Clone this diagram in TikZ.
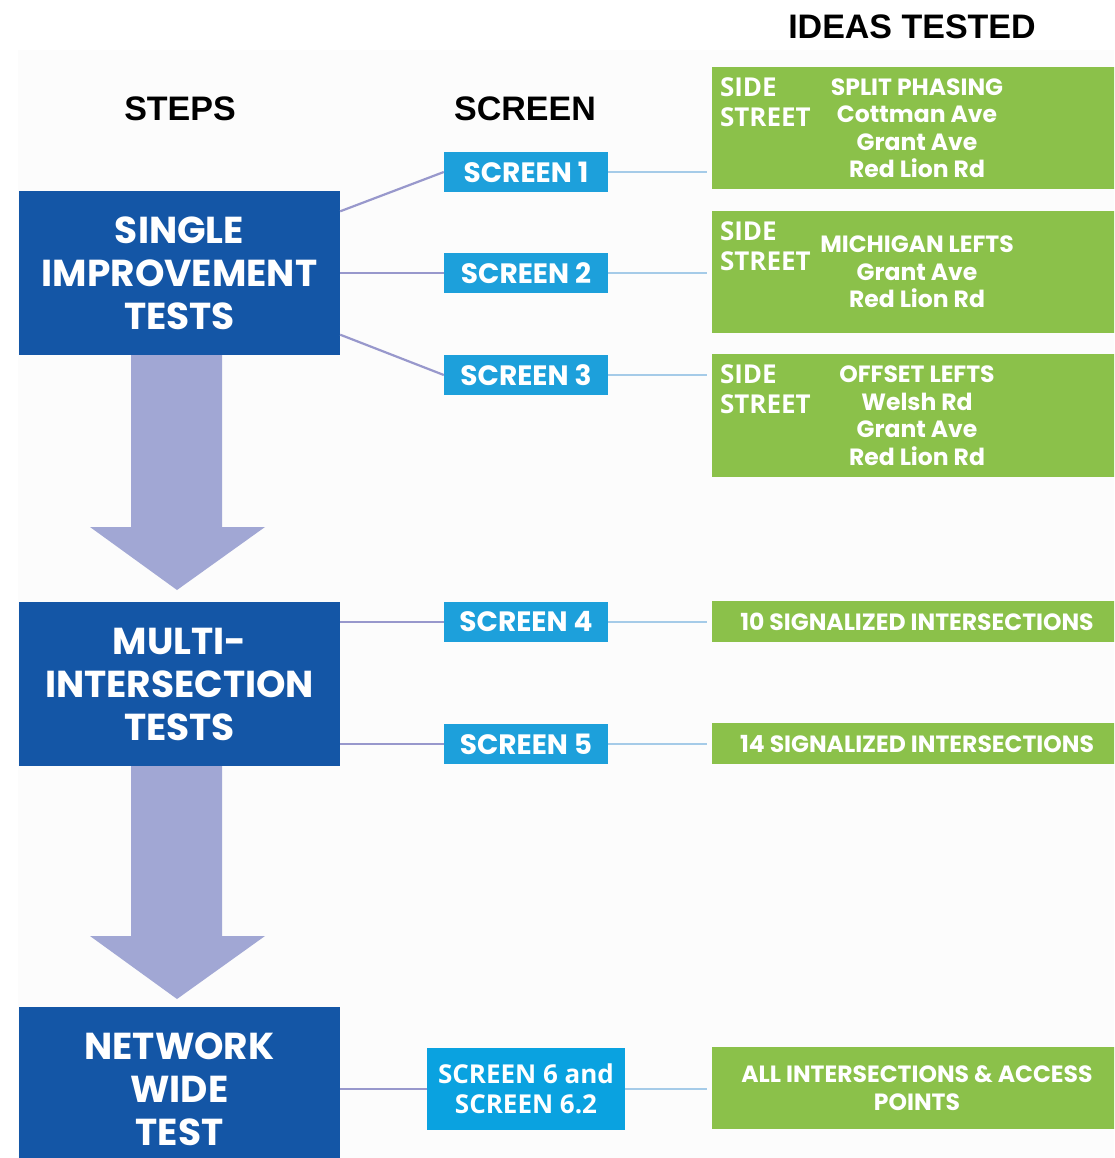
\documentclass[tikz,border=0pt]{standalone}
\usepackage{fontspec}
\usetikzlibrary{positioning}
\setmainfont{Poppins}
\newfontfamily\headfont{Liberation Sans}
\newfontfamily\plainfont{Open Sans}
\definecolor{stepblue}{RGB}{20,86,166}
\definecolor{screencyan}{RGB}{29,160,219}
\definecolor{screenbright}{RGB}{10,162,224}
\definecolor{ideagreen}{RGB}{139,193,74}
\definecolor{flowlav}{RGB}{161,167,212}
\definecolor{linklav}{RGB}{152,152,204}
\definecolor{linkblue}{RGB}{165,203,232}
\definecolor{paper}{RGB}{252,252,252}
\begin{document}
\begin{tikzpicture}[x=1pt, y=-1pt,
    stepbox/.style={fill=stepblue, text=white, minimum width=321pt, minimum height=164pt, inner sep=0pt, align=center, font=\bfseries\fontsize{37.5}{43}\selectfont},
    screenbox/.style={fill=screencyan, text=white, minimum width=164pt, minimum height=40pt, inner sep=0pt, font=\bfseries\fontsize{28}{30}\selectfont},
    ideabox/.style={fill=ideagreen, text=white, minimum width=410pt, inner sep=0pt, align=center, font=\bfseries\fontsize{23.5}{27.5}\selectfont},
    sidelabel/.style={text=white, anchor=north west, inner sep=0pt, align=left, font=\plainfont\bfseries\fontsize{26}{30}\selectfont},
    head/.style={font=\headfont\bfseries\fontsize{34}{40}\selectfont},
    link/.style={linklav, line width=2.2pt},
    feed/.style={linkblue, line width=2pt, shorten >=5pt}]
    \useasboundingbox (0,0) rectangle (1114,1158);
    \clip (0,0) rectangle (1114,1158);
    \fill[paper] (18,50) rectangle (1114,1158);

    \node[head] (hideas) at (912,27) {IDEAS TESTED};
    \node[head] (hsteps) at (180,109) {STEPS};
    \node[head] (hscreen) at (525,109) {SCREEN};

    % steps and the arrows between them
    \node[stepbox] (step1) at (179.5,273) {SINGLE\\IMPROVEMENT\\TESTS};
    \node[stepbox] (step2) at (179.5,684) {MULTI-\\INTERSECTION\\TESTS};
    \node[stepbox] (step3) at (179.5,1089) {NETWORK\\WIDE\\TEST};
    \foreach \top/\neck/\tip in {355/527/590, 766/936/999}
        \fill[flowlav] (131,\top) -- (222,\top) -- (222,\neck) -- (265,\neck)
            -- (177,\tip) -- (90,\neck) -- (131,\neck) -- cycle;

    % screens
    \foreach \n/\y in {1/172, 2/273, 3/375, 4/622, 5/744}
        \node[screenbox] (scr\n) at (526,\y) {SCREEN \n};
    \node[screenbox, fill=screenbright, minimum width=198pt, minimum height=82pt, align=center,
        font=\plainfont\bfseries\fontsize{26}{30}\selectfont] (scr6) at (526,1089) {SCREEN 6 and\\SCREEN 6.2};

    % ideas tested
    \node[ideabox, minimum height=122pt] (idea1) at (917,128) {SPLIT PHASING\\Cottman Ave\\Grant Ave\\Red Lion Rd};
    \node[ideabox, minimum height=122pt] (idea2) at (917,272) {MICHIGAN LEFTS\\Grant Ave\\Red Lion Rd};
    \node[ideabox, minimum height=123pt] (idea3) at (917,415.5) {OFFSET LEFTS\\Welsh Rd\\Grant Ave\\Red Lion Rd};
    \node[ideabox, minimum height=41pt] (idea4) at (917,621.5) {10 SIGNALIZED INTERSECTIONS};
    \node[ideabox, minimum height=41pt] (idea5) at (917,743.5) {14 SIGNALIZED INTERSECTIONS};
    \node[ideabox, minimum height=82pt] (idea6) at (917,1088) {ALL INTERSECTIONS \& ACCESS\\POINTS};
    \foreach \n in {1,2,3}
        \node[sidelabel, below right=11pt and 8pt of idea\n.north west] (side\n) {SIDE\\STREET};

    % connectors
    \draw[link] (step1.21) -- (scr1.west);
    \draw[link] (step1.east) -- (scr2.west);
    \draw[link] (step1.-21) -- (scr3.west);
    \draw[link] (step2.east |- scr4) -- (scr4.west);
    \draw[link] (step2.east |- scr5) -- (scr5.west);
    \draw[link] (step3.east |- scr6) -- (scr6.west);
    \foreach \n in {1,...,6}
        \draw[feed] (scr\n.east) -- (scr\n.east -| idea\n.west);
\end{tikzpicture}
\end{document}
